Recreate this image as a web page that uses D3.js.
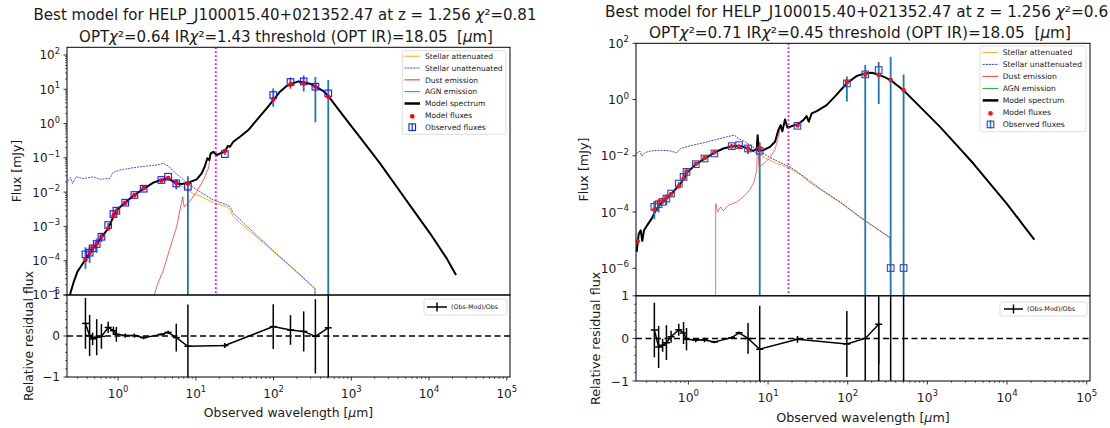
<!DOCTYPE html>
<html>
<head>
<meta charset="utf-8">
<script src="https://cdn.jsdelivr.net/npm/d3@7/dist/d3.min.js"></script>
<style>
  html,body{margin:0;padding:0;background:#fff;}
  svg{display:block;font-family:"DejaVu Sans",Verdana,sans-serif;}
  text{white-space:pre;}
</style>
</head>
<body>
<svg id="fig" width="1110" height="428"></svg>
<script>
// ================= DATA =================
const xDomain = [0.22, 1.1e5];
const resDomain = [-1, 1];
const xMajorTicks = [1, 10, 100, 1000, 10000, 100000];
const resMajorTicks = [-1, 0, 1];
const resMinorTicks = [-0.8, -0.6, -0.4, -0.2, 0.2, 0.4, 0.6, 0.8];
const legendLabels = ["Stellar attenuated", "Stellar unattenuated", "Dust emission", "AGN emission", "Model spectrum", "Model fluxes", "Observed fluxes"];
const residualLabel = "(Obs-Mod)/Obs";
const xAxisTitle = "Observed wavelength [μm]";
const yAxisTitle = "Flux [mJy]";
const resAxisTitle = "Relative residual flux";

// ---------- left fit ----------
const leftTitle = ["Best model for HELP_J100015.40+021352.47 at z = 1.256 χ²=0.81",
                   "OPTχ²=0.64 IRχ²=1.43 threshold (OPT IR)=18.05  [μm]"];
const leftYDomain = [1e-5, 168];
const leftYTicks = [1e-5, 1e-4, 1e-3, 1e-2, 1e-1, 1, 10, 100];
const leftThreshold = 18.05;
const leftBandWave = [0.38, 0.43, 0.47, 0.53, 0.61, 0.745, 0.87, 0.95, 1.235, 1.62, 2.13, 3.6, 4.4, 5.6, 7.9, 23.6, 99, 165, 244, 345, 505];
const leftObsFlux  = [1.53e-4, 1.72e-4, 2.3e-4, 3.07e-4, 5.0e-4, 1.1e-3, 2.3e-3, 2.88e-3, 4.93e-3, 8.25e-3, 1.26e-2, 2.26e-2, 2.82e-2, 1.8e-2, 1.44e-2, 0.129, 6.8, 16.3, 17.0, 11.9, 7.6];
const leftObsErr   = [9.5e-5, 8.6e-5, 3.5e-5, 1.35e-4, 1.5e-4, 1.5e-4, 2.3e-4, 5.2e-4, 2.5e-4, 4.1e-4, 5.0e-4, 6.8e-4, 1.1e-3, 6.1e-3, 1.47e-2, 7.7e-3, 3.7, 5.9, 8.3, 10.8, 11.0];
const leftModFlux  = [1.06e-4, 1.70e-4, 2.46e-4, 3.16e-4, 5.05e-4, 8.7e-4, 2.0e-3, 2.76e-3, 4.88e-3, 8.17e-3, 1.31e-2, 2.17e-2, 2.57e-2, 1.87e-2, 1.8e-2, 0.159, 5.24, 13.9, 15.1, 12.0, 6.08];
const leftModelSpec = [[0.23,6e-6],[0.245,1.2e-5],[0.27,2.5e-5],[0.30,4.8e-5],[0.33,6.7e-5],[0.375,1.05e-4],[0.435,1.72e-4],[0.53,3.07e-4],[0.614,5.0e-4],[0.748,8.8e-4],[0.868,1.92e-3],[0.958,3.0e-3],[1.226,4.93e-3],[1.616,8.25e-3],[2.153,1.26e-2],[2.838,1.89e-2],[3.53,2.26e-2],[4.43,2.52e-2],[5.13,2.02e-2],[5.66,1.8e-2],[6.57,1.73e-2],[8.0,1.89e-2],[10.24,2.36e-2],[11.88,3.53e-2],[13.1,5.78e-2],[14.05,9.7e-2],[14.9,8.65e-2],[15.5,0.135],[16.8,0.151],[18.5,0.121],[20.5,0.135],[23.7,0.151],[25.7,0.221],[27.5,0.212],[30.3,0.296],[37.0,0.414],[47.3,0.648],[60.6,1.27],[81.5,2.78],[99.3,4.86],[121,8.5],[147,12.4],[166,13.9],[180,15.1],[208,17.0],[246,15.9],[294,14.6],[348,11.9],[437,8.9],[506,6.36],[871,1.27],[1428,0.296],[2340,0.069],[3833,0.0144],[6280,3.0e-3],[10290,6.3e-4],[16860,1.17e-4],[22230,3.83e-5]];
const leftStellarAtt = [[0.23,6e-6],[0.245,1.2e-5],[0.27,2.5e-5],[0.30,4.8e-5],[0.33,6.7e-5],[0.375,1.05e-4],[0.435,1.72e-4],[0.53,3.07e-4],[0.614,5.0e-4],[0.748,8.8e-4],[0.868,1.92e-3],[0.958,3.0e-3],[1.226,4.93e-3],[1.616,8.25e-3],[2.153,1.26e-2],[2.838,1.89e-2],[3.53,2.26e-2],[4.43,2.5e-2],[5.13,2.0e-2],[5.66,1.75e-2],[6.57,1.5e-2],[8.0,1.15e-2],[9.28,8.8e-3],[11.3,7.7e-3],[16.8,4.93e-3],[24.9,3.77e-3],[27.5,3.0e-3],[30.3,1.92e-3],[66.8,4.0e-4],[121,1.25e-4],[219,3.83e-5],[341,1.5e-5],[348,1e-7]];
const leftStellarUnatt = [[0.229,2.16e-2],[0.245,2.7e-2],[0.26,1.8e-2],[0.287,2.8e-2],[0.357,2.5e-2],[0.48,2.8e-2],[0.585,2.36e-2],[0.786,2.52e-2],[0.851,3.7e-2],[1.057,4.42e-2],[1.569,5.17e-2],[2.33,5.78e-2],[3.13,6.18e-2],[3.82,6.9e-2],[4.43,5.78e-2],[5.39,3.7e-2],[6.57,2.52e-2],[8.0,1.73e-2],[11.3,1.03e-2],[16.8,5.9e-3],[24.9,4.3e-3],[27.5,3.77e-3],[30.3,2.41e-3],[66.8,4.5e-4],[121,1.31e-4],[219,3.92e-5],[341,1.56e-5],[348,1e-7]];
const leftDust = [[2.70,5e-6],[3.13,1.75e-5],[3.82,5.4e-5],[4.65,2.3e-4],[5.66,9.8e-4],[6.77,7.4e-3],[7.04,3.77e-3],[8.0,4.7e-3],[10.24,1.03e-2],[12.5,2.26e-2],[14.5,4.94e-2],[15.5,0.12],[16.8,0.14],[18.5,0.115],[20.5,0.13],[23.7,0.148],[25.7,0.218],[27.5,0.21],[30.3,0.294],[37.0,0.412],[47.3,0.646],[60.6,1.27],[81.5,2.78],[99.3,4.86],[121,8.5],[147,12.4],[166,13.9],[180,15.1],[208,17.0],[246,15.9],[294,14.6],[348,11.9],[437,8.9],[506,6.36],[871,1.27],[1428,0.296],[2340,0.069],[3833,0.0144],[6280,3.0e-3],[10290,6.3e-4],[16860,1.17e-4],[22230,3.83e-5]];
const leftModelOnlyWave = [];
const leftModelOnlyFlux = [];

// ---------- right fit ----------
const rightTitle = ["Best model for HELP_J100015.40+021352.47 at z = 1.256 χ²=0.6",
                    "OPTχ²=0.71 IRχ²=0.45 threshold (OPT IR)=18.05  [μm]"];
const rightYDomain = [1.05e-7, 100];
const rightYTicks = [1e-6, 1e-4, 1e-2, 1, 100];
const rightThreshold = 18.05;
const rightBandWave = [0.374, 0.423, 0.475, 0.53, 0.606, 0.757, 0.87, 0.947, 1.238, 1.595, 2.12, 3.5, 4.33, 5.61, 7.86, 23.4, 97.5, 166, 245, 346, 503];
const rightObsFlux  = [1.52e-4, 1.89e-4, 2.3e-4, 3.01e-4, 4.54e-4, 1.03e-3, 1.78e-3, 2.68e-3, 5.03e-3, 8.0e-3, 1.21e-2, 2.2e-2, 2.39e-2, 1.82e-2, 1.5e-2, 0.1166, 3.75, 7.85, 11.2, 1.02e-6, 1.02e-6];
const rightObsErr   = [9.7e-5, 9.3e-5, 3.5e-5, 1.23e-4, 6.4e-5, 1.44e-4, 4.6e-4, 7.0e-4, 2.5e-4, 4.0e-4, 3.6e-4, 6.6e-4, 7.2e-4, 6.6e-3, 1.53e-2, 9.3e-3, 2.9, 9.0, 10.5, 33.4, 7.85];
const rightModFlux  = [1.22e-4, 2.27e-4, 2.67e-4, 3.31e-4, 4.36e-4, 8.2e-4, 1.55e-3, 2.73e-3, 5.23e-3, 8.3e-3, 1.31e-2, 2.16e-2, 2.08e-2, 1.82e-2, 1.88e-2, 0.119, 4.24, 7.85, 7.5, 4.93, 2.17];
const rightModelOnlyWave = [0.231];
const rightModelOnlyFlux = [9.1e-6];
const rightModelSpec = [[0.2243,3.8e-6],[0.2376,1.62e-5],[0.2518,2.24e-5],[0.264,9.4e-6],[0.277,2.24e-5],[0.314,3.88e-5],[0.346,5.84e-5],[0.381,1.01e-4],[0.432,1.74e-4],[0.534,3.01e-4],[0.617,4.54e-4],[0.785,9.76e-4],[0.907,1.78e-3],[0.952,2.47e-3],[1.246,5.03e-3],[1.616,8.0e-3],[2.097,1.27e-2],[2.75,1.82e-2],[3.56,2.2e-2],[4.36,2.26e-2],[4.9,2.08e-2],[5.66,1.77e-2],[6.54,1.5e-2],[7.2,1.72e-2],[7.41,5.42e-2],[7.63,1.5e-2],[8.73,1.58e-2],[10.58,2.08e-2],[12.23,3.14e-2],[13.47,8.17e-2],[14.41,0.123],[15.11,7.5e-2],[16.33,0.196],[17.47,0.1017],[18.87,0.107],[20.77,0.12],[24.0,0.134],[27.7,0.1856],[30.5,0.2576],[32.4,0.162],[35.3,0.32],[40.8,0.388],[54.4,0.635],[72.7,1.5],[80.1,2.05],[98.9,3.9],[129.6,6.84],[165,8.52],[200,9.0],[247,7.64],[294,6.14],[346,4.93],[412,3.27],[499,2.17],[890,0.421],[1441,0.107],[2333,2.39e-2],[3777,5.3e-3],[6114,1.03e-3],[9897,2.0e-4],[16020,3.38e-5],[22020,1.04e-5]];
const rightStellarAtt = [[0.2243,3.8e-6],[0.2376,1.62e-5],[0.2518,2.24e-5],[0.264,9.4e-6],[0.277,2.24e-5],[0.314,3.88e-5],[0.346,5.84e-5],[0.381,1.01e-4],[0.432,1.74e-4],[0.534,3.01e-4],[0.617,4.54e-4],[0.785,9.76e-4],[0.907,1.78e-3],[0.952,2.47e-3],[1.246,5.03e-3],[1.616,8.0e-3],[2.097,1.27e-2],[2.75,1.82e-2],[3.56,2.2e-2],[4.36,2.25e-2],[4.9,2.05e-2],[5.66,1.72e-2],[6.54,1.4e-2],[7.5,1.14e-2],[9.61,8.0e-3],[12.83,5.31e-3],[17.98,3.83e-3],[25.2,2.21e-3],[33.6,1.09e-3],[49.4,5.35e-4],[80.1,2.2e-4],[142.7,6.4e-5],[340,1.2e-5],[346,1e-7]];
const rightStellarUnatt = [[0.2243,1.21e-2],[0.247,1.46e-2],[0.2617,9.7e-3],[0.2853,1.31e-2],[0.346,1.5e-2],[0.44,1.58e-2],[0.588,1.5e-2],[0.713,1.27e-2],[0.8,1.82e-2],[1.048,2.26e-2],[1.54,2.89e-2],[2.26,3.8e-2],[3.02,4.73e-2],[3.78,5.42e-2],[4.24,4.12e-2],[4.9,3.41e-2],[5.94,2.39e-2],[7.2,1.67e-2],[8.73,1.21e-2],[10.58,8.7e-3],[14.13,5.77e-3],[18.87,4.04e-3],[27.7,1.88e-3],[49.4,5.65e-4],[80.1,2.29e-4],[142.7,6.7e-5],[340,1.23e-5],[346,1e-7]];
const rightDust = [[2.2,1e-7],[2.2,2.0e-4],[2.33,1.01e-4],[2.54,1.52e-4],[2.75,1.1e-4],[3.17,1.74e-4],[4.04,2.29e-4],[4.9,3.45e-4],[5.94,6.3e-4],[6.66,1.18e-3],[7.2,3.07e-3],[7.41,3.6e-2],[7.7,4.04e-3],[8.73,5.03e-3],[10.58,8.7e-3],[12.23,1.67e-2],[13.47,4.73e-2],[14.41,0.107],[15.11,7.4e-2],[16.33,0.19],[17.47,0.1],[18.87,0.105],[20.77,0.118],[24.0,0.132],[27.7,0.183],[30.5,0.255],[32.4,0.16],[35.3,0.318],[40.8,0.386],[54.4,0.633],[72.7,1.5],[80.1,2.05],[98.9,3.9],[129.6,6.84],[165,8.52],[200,9.0],[247,7.64],[294,6.14],[346,4.93],[412,3.27],[499,2.17],[890,0.421],[1441,0.107],[2333,2.39e-2],[3777,5.3e-3],[6114,1.03e-3],[9897,2.0e-4],[16020,3.38e-5],[22020,1.04e-5]];

// ================= LAYOUT / STYLE =================
const leftLayout = {
  id: "L", x0: 67, x1: 510, yt: 47.3, yb: 295, rt: 295, rb: 377, fs: 1,
  title: [{x: 285, y: 19.5, anchor: "middle", size: 15}, {x: 286, y: 42, anchor: "middle", size: 15}],
  yLabX: 17, resLabX: 29, xLabY: 417,
  lg: {x: 402.3, y: 50.7, w: 103.7, h: 83.6, y0: 56.2, dy: 11.83, hx0: 404.5, hx1: 420, tx: 425},
  rlg: {x: 424, y: 299, w: 83, h: 16, hx0: 427, hx1: 447, tx: 451},
  minorY: true,
  c: {orange: "#ffa500", blue: "#3a3aff", red: "#ff2a2a", green: "#2ca02c", thr: "#ff00ff",
      err: "#1f77b4", box: "#1a1aff", dot: "#ff0000"}
};
const rightLayout = {
  id: "R", x0: 636, x1: 1090, yt: 43.3, yb: 295.8, rt: 295.8, rb: 381, fs: 1.025,
  title: [{x: 605, y: 17, anchor: "start", size: 15.3}, {x: 860, y: 38, anchor: "middle", size: 15.3}],
  yLabX: 583.5, resLabX: 596, xLabY: 422,
  lg: {x: 980, y: 46, w: 106, h: 85.7, y0: 52.4, dy: 12.0, hx0: 982.7, hx1: 998.3, tx: 1002.7},
  rlg: {x: 1000, y: 302, w: 87, h: 14, hx0: 1004, hx1: 1023, tx: 1027},
  minorY: false,
  c: {orange: "#f5a623", blue: "#3333b0", red: "#ff3b3b", green: "#2ca02c", thr: "#bb22bb",
      err: "#1f77b4", box: "#3344b8", dot: "#f01818"}
};

// ================= DRAW =================
const svg = d3.select("#fig");
svg.append("rect").attr("width", 1110).attr("height", 428).attr("fill", "#fff");
const defs = svg.append("defs");
const TXT = "#1a1a1a";

// text with math-style italic Greek letters (χ, μ) as in matplotlib mathtext
function richText(sel, str) {
  const parts = str.split(/([χμ])/);
  parts.forEach(p => {
    if (!p) return;
    const t = sel.append("tspan").text(p);
    if (p === "χ" || p === "μ") t.attr("font-style", "italic");
  });
  return sel;
}
function expStr(v) {
  const e = Math.round(Math.log10(v));
  return e < 0 ? "\u2212" + (-e) : String(e);
}
function powLabel(sel, v, fs) {
  sel.append("tspan").text("10");
  sel.append("tspan").attr("dy", -0.45 * fs).attr("font-size", fs * 0.7).text(expStr(v));
}

function drawPanel(L, D) {
  const C = L.c;
  const x = d3.scaleLog().domain(xDomain).range([L.x0, L.x1]);
  const y = d3.scaleLog().domain(D.yDomain).range([L.yb, L.yt]);
  const r = d3.scaleLinear().domain(resDomain).range([L.rb, L.rt]);
  const tfs = 12 * L.fs;

  defs.append("clipPath").attr("id", L.id + "ct").append("rect")
    .attr("x", L.x0).attr("y", L.yt).attr("width", L.x1 - L.x0).attr("height", L.yb - L.yt);
  defs.append("clipPath").attr("id", L.id + "cr").append("rect")
    .attr("x", L.x0).attr("y", L.rt).attr("width", L.x1 - L.x0).attr("height", L.rb - L.rt);

  // ---- titles
  D.title.forEach((t, i) => {
    const p = L.title[i];
    richText(svg.append("text").attr("x", p.x).attr("y", p.y).attr("text-anchor", p.anchor)
      .attr("font-size", p.size).attr("fill", TXT), t);
  });

  // ---- top panel contents
  const top = svg.append("g").attr("clip-path", `url(#${L.id}ct)`);
  const line = d3.line().x(d => x(d[0])).y(d => y(d[1]));
  top.append("path").attr("d", line(D.stellarAtt)).attr("fill", "none")
    .attr("stroke", C.orange).attr("stroke-width", 0.9);
  top.append("path").attr("d", line(D.stellarUnatt)).attr("fill", "none")
    .attr("stroke", C.blue).attr("stroke-width", 0.9).attr("stroke-dasharray", "2,1");
  top.append("path").attr("d", line(D.dust)).attr("fill", "none")
    .attr("stroke", C.red).attr("stroke-width", 0.9).attr("stroke-opacity", 0.85);
  top.append("path").attr("d", line(D.model)).attr("fill", "none")
    .attr("stroke", "#000").attr("stroke-width", 2).attr("stroke-linejoin", "round");
  top.append("line").attr("x1", x(D.threshold)).attr("x2", x(D.threshold))
    .attr("y1", L.yt).attr("y2", L.yb).attr("stroke", C.thr).attr("stroke-width", 1.8)
    .attr("stroke-dasharray", "1.8,2.2");

  D.wave.forEach((w, i) => {
    const f = D.obs[i], e = D.err[i];
    const lo = f - e;
    top.append("line").attr("x1", x(w)).attr("x2", x(w))
      .attr("y1", y(f + e)).attr("y2", lo > 0 ? y(lo) : L.yb + 10)
      .attr("stroke", C.err).attr("stroke-width", 1.8);
  });
  D.wave.forEach((w, i) => {
    top.append("rect").attr("x", x(w) - 3.3).attr("y", y(D.obs[i]) - 3.3)
      .attr("width", 6.6).attr("height", 6.6).attr("fill", "none")
      .attr("stroke", C.box).attr("stroke-width", 1.1);
  });
  const dots = D.wave.map((w, i) => [w, D.mod[i]]).concat(D.onlyWave.map((w, i) => [w, D.onlyFlux[i]]));
  dots.forEach(d => {
    top.append("circle").attr("cx", x(d[0])).attr("cy", y(d[1])).attr("r", 2.3).attr("fill", C.dot);
  });

  // ---- residual panel contents
  const rg = svg.append("g").attr("clip-path", `url(#${L.id}cr)`);
  const cap = v => Math.max(-1e5, Math.min(1e5, v));
  const res = D.wave.map((w, i) => [w, (D.obs[i] - D.mod[i]) / D.obs[i], D.err[i] / D.obs[i]]);
  rg.append("line").attr("x1", L.x0).attr("x2", L.x1).attr("y1", r(0)).attr("y2", r(0))
    .attr("stroke", "#000").attr("stroke-width", 1.5).attr("stroke-dasharray", "6,3.5");
  res.forEach(d => {
    rg.append("line").attr("x1", x(d[0])).attr("x2", x(d[0]))
      .attr("y1", cap(r(d[1] + d[2]))).attr("y2", cap(r(d[1] - d[2])))
      .attr("stroke", "#000").attr("stroke-width", 1.5);
  });
  rg.append("path").attr("d", d3.line().x(d => x(d[0])).y(d => cap(r(d[1])))(res))
    .attr("fill", "none").attr("stroke", "#000").attr("stroke-width", 1.5);
  res.forEach(d => {
    rg.append("line").attr("x1", x(d[0]) - 3.5).attr("x2", x(d[0]) + 3.5)
      .attr("y1", cap(r(d[1]))).attr("y2", cap(r(d[1])))
      .attr("stroke", "#000").attr("stroke-width", 1.5);
  });

  // ---- frames
  [[L.yt, L.yb], [L.rt, L.rb]].forEach(([a, b]) => {
    svg.append("rect").attr("x", L.x0).attr("y", a).attr("width", L.x1 - L.x0).attr("height", b - a)
      .attr("fill", "none").attr("stroke", "#000").attr("stroke-width", 1);
  });

  // ---- y ticks top
  const ay = svg.append("g");
  D.yTicks.forEach(v => {
    const yy = y(v);
    ay.append("line").attr("x1", L.x0 - 3.5).attr("x2", L.x0).attr("y1", yy).attr("y2", yy)
      .attr("stroke", "#000").attr("stroke-width", 0.8);
    const t = ay.append("text").attr("x", L.x0 - 7).attr("y", yy + 4.4 * L.fs)
      .attr("text-anchor", "end").attr("font-size", tfs).attr("fill", TXT);
    powLabel(t, v, tfs);
  });
  if (L.minorY) {
    const lo = Math.floor(Math.log10(D.yDomain[0])), hi = Math.ceil(Math.log10(D.yDomain[1]));
    for (let e = lo; e <= hi; e++) for (let k = 2; k <= 9; k++) {
      const v = k * Math.pow(10, e);
      if (v < D.yDomain[0] || v > D.yDomain[1]) continue;
      ay.append("line").attr("x1", L.x0 - 2).attr("x2", L.x0).attr("y1", y(v)).attr("y2", y(v))
        .attr("stroke", "#000").attr("stroke-width", 0.6);
    }
  }
  // ---- residual y ticks
  resMajorTicks.forEach(v => {
    ay.append("line").attr("x1", L.x0 - 3.5).attr("x2", L.x0).attr("y1", r(v)).attr("y2", r(v))
      .attr("stroke", "#000").attr("stroke-width", 0.8);
    ay.append("text").attr("x", L.x0 - 7).attr("y", r(v) + 4.4 * L.fs).attr("text-anchor", "end")
      .attr("font-size", tfs).attr("fill", TXT).text(v < 0 ? "\u2212" + (-v) : String(v));
  });
  resMinorTicks.forEach(v => {
    ay.append("line").attr("x1", L.x0 - 2).attr("x2", L.x0).attr("y1", r(v)).attr("y2", r(v))
      .attr("stroke", "#000").attr("stroke-width", 0.6);
  });
  // ---- x ticks (residual bottom)
  xMajorTicks.forEach(v => {
    const xx = x(v);
    ay.append("line").attr("x1", xx).attr("x2", xx).attr("y1", L.rb).attr("y2", L.rb + 3.5)
      .attr("stroke", "#000").attr("stroke-width", 0.8);
    const t = ay.append("text").attr("x", xx).attr("y", L.rb + 20.5 * L.fs)
      .attr("text-anchor", "middle").attr("font-size", tfs).attr("fill", TXT);
    powLabel(t, v, tfs);
  });
  for (let e = -1; e <= 5; e++) for (let k = 2; k <= 9; k++) {
    const v = k * Math.pow(10, e);
    if (v < xDomain[0] || v > xDomain[1]) continue;
    ay.append("line").attr("x1", x(v)).attr("x2", x(v)).attr("y1", L.rb).attr("y2", L.rb + 2)
      .attr("stroke", "#000").attr("stroke-width", 0.6);
  }

  // ---- axis titles
  const afs = 12.4 * L.fs;
  svg.append("text").attr("transform", `translate(${L.yLabX},${(L.yt + L.yb) / 2}) rotate(-90)`)
    .attr("text-anchor", "middle").attr("dy", "0.35em").attr("font-size", afs).attr("fill", TXT).text(yAxisTitle);
  svg.append("text").attr("transform", `translate(${L.resLabX},${(L.rt + L.rb) / 2}) rotate(-90)`)
    .attr("text-anchor", "middle").attr("dy", "0.35em").attr("font-size", afs).attr("fill", TXT).text(resAxisTitle);
  richText(svg.append("text").attr("x", (L.x0 + L.x1) / 2).attr("y", L.xLabY).attr("text-anchor", "middle")
    .attr("font-size", afs).attr("fill", TXT), xAxisTitle);

  // ---- legend (top)
  const G = L.lg, lg = svg.append("g");
  lg.append("rect").attr("x", G.x).attr("y", G.y).attr("width", G.w).attr("height", G.h).attr("rx", 2)
    .attr("fill", "#fff").attr("fill-opacity", 0.85).attr("stroke", "#d4d4d4").attr("stroke-width", 0.8);
  const lfs = 7.5 * L.fs;
  const styles = [
    {type: "line", color: C.orange, w: 1},
    {type: "line", color: C.blue, w: 1, dash: "2,1"},
    {type: "line", color: C.red, w: 1},
    {type: "line", color: C.green, w: 1},
    {type: "line", color: "#000", w: 2.5},
    {type: "dot"},
    {type: "box"}
  ];
  legendLabels.forEach((lab, i) => {
    const yy = G.y0 + i * G.dy, s = styles[i], hc = (G.hx0 + G.hx1) / 2;
    if (s.type === "line") {
      const l = lg.append("line").attr("x1", G.hx0).attr("x2", G.hx1).attr("y1", yy).attr("y2", yy)
        .attr("stroke", s.color).attr("stroke-width", s.w);
      if (s.dash) l.attr("stroke-dasharray", s.dash);
    } else if (s.type === "dot") {
      lg.append("circle").attr("cx", hc).attr("cy", yy + 1).attr("r", 2.3).attr("fill", C.dot);
    } else {
      lg.append("line").attr("x1", hc).attr("x2", hc).attr("y1", yy - 4).attr("y2", yy + 4)
        .attr("stroke", C.err).attr("stroke-width", 1.5);
      lg.append("rect").attr("x", hc - 3.3).attr("y", yy - 3.3).attr("width", 6.6).attr("height", 6.6)
        .attr("fill", "none").attr("stroke", C.box).attr("stroke-width", 1.1);
    }
    lg.append("text").attr("x", G.tx).attr("y", yy + 2.7).attr("font-size", lfs).attr("fill", TXT).text(lab);
  });

  // ---- legend (residual)
  const R = L.rlg, ym = R.y + R.h / 2;
  lg.append("rect").attr("x", R.x).attr("y", R.y).attr("width", R.w).attr("height", R.h).attr("rx", 2)
    .attr("fill", "#fff").attr("fill-opacity", 0.85).attr("stroke", "#d4d4d4").attr("stroke-width", 0.8);
  lg.append("line").attr("x1", R.hx0).attr("x2", R.hx1).attr("y1", ym).attr("y2", ym)
    .attr("stroke", "#000").attr("stroke-width", 1.5);
  lg.append("line").attr("x1", (R.hx0 + R.hx1) / 2).attr("x2", (R.hx0 + R.hx1) / 2)
    .attr("y1", ym - 4.5).attr("y2", ym + 4.5).attr("stroke", "#000").attr("stroke-width", 1.5);
  lg.append("text").attr("x", R.tx).attr("y", ym + 2.2).attr("font-size", 6.3 * L.fs).attr("fill", TXT).text(residualLabel);
}

drawPanel(leftLayout, {
  title: leftTitle, yDomain: leftYDomain, yTicks: leftYTicks, threshold: leftThreshold,
  wave: leftBandWave, obs: leftObsFlux, err: leftObsErr, mod: leftModFlux,
  onlyWave: leftModelOnlyWave, onlyFlux: leftModelOnlyFlux,
  model: leftModelSpec, stellarAtt: leftStellarAtt, stellarUnatt: leftStellarUnatt, dust: leftDust
});
drawPanel(rightLayout, {
  title: rightTitle, yDomain: rightYDomain, yTicks: rightYTicks, threshold: rightThreshold,
  wave: rightBandWave, obs: rightObsFlux, err: rightObsErr, mod: rightModFlux,
  onlyWave: rightModelOnlyWave, onlyFlux: rightModelOnlyFlux,
  model: rightModelSpec, stellarAtt: rightStellarAtt, stellarUnatt: rightStellarUnatt, dust: rightDust
});
</script>
</body>
</html>
